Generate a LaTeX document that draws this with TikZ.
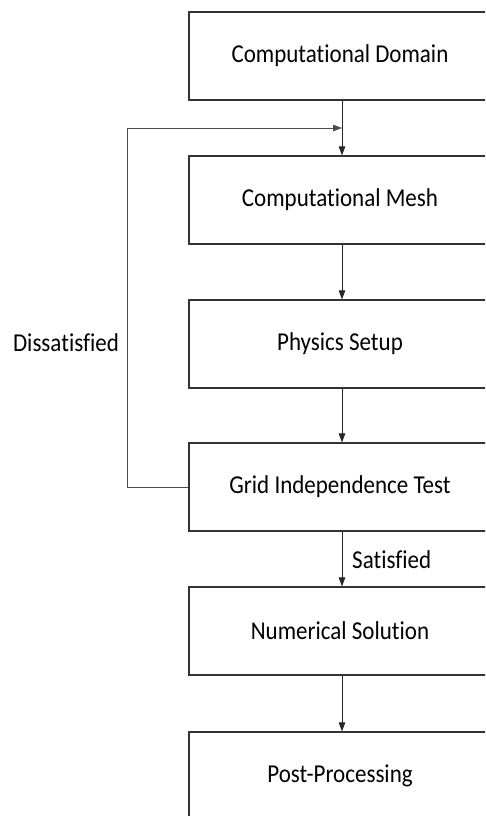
\documentclass[tikz,border=0pt]{standalone}
\usepackage{fontspec}
\setmainfont{Carlito}[Ligatures=NoCommon]
\usetikzlibrary{arrows.meta}
\newcommand{\tx}[1]{\scalebox{1}[1.12]{#1}}
\begin{document}
\begin{tikzpicture}[x=1pt,y=-1pt,
  box/.style={draw=black!80,line width=1.2pt,minimum width=302pt,minimum height=88pt,inner sep=0pt,font=\fontsize{23}{26}\selectfont},
  conn/.style={draw=black!85,line width=0.9pt,-{Triangle[length=9pt,width=6.5pt]}},
  loop/.style={draw=black!70,line width=1pt},
  lbl/.style={font=\fontsize{23}{26}\selectfont,inner sep=0pt}]
\clip (0,0) rectangle (485,816);
\useasboundingbox (0,0) rectangle (485,816);
\fill[white] (0,0) rectangle (485,816);
\node[box] (dom) at (340,56) {\tx{Computational Domain}};
\node[box] (mesh) at (340,200) {\tx{Computational Mesh}};
\node[box] (phys) at (340,344) {\tx{Physics Setup}};
\node[box] (grid) at (340,487) {\tx{Grid Independence Test}};
\node[box] (num) at (340,631) {\tx{Numerical Solution}};
\node[box] (post) at (340,776) {\tx{Post-Processing}};
\coordinate (j) at (342,128);
\coordinate (c1) at (127,487);
\coordinate (c2) at (127,128);
\draw[conn] (dom.south -| j) -- (mesh.north -| j);
\draw[conn] (mesh.south -| j) -- (phys.north -| j);
\draw[conn] (phys.south -| j) -- (grid.north -| j);
\draw[conn] (grid.south -| j) -- (num.north -| j);
\draw[conn] (num.south -| j) -- (post.north -| j);
\draw[conn,draw=black!70] (grid.west) -- (c1) -- (c2) -- (j);
\node[lbl] (dis) at (66,343) {\tx{Dissatisfied}};
\node[lbl,anchor=west] (sat) at (352,560) {\tx{Satisfied}};
\end{tikzpicture}
\end{document}
